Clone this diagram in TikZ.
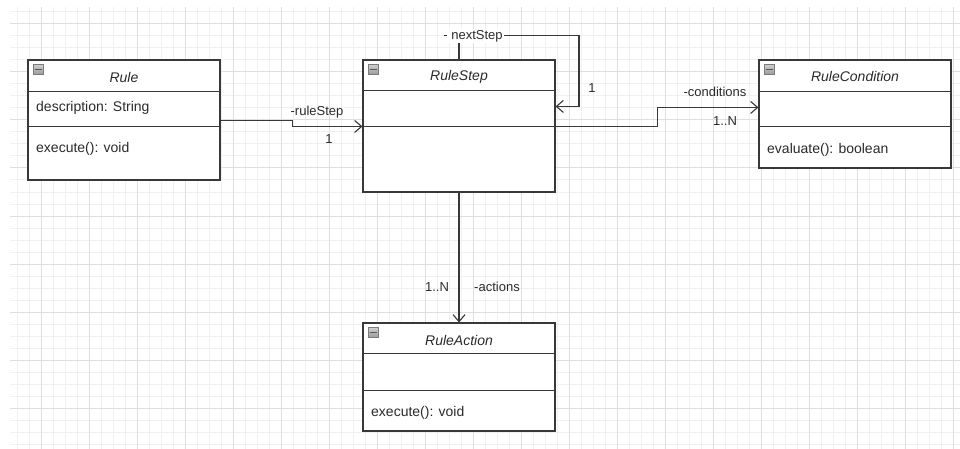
\documentclass[tikz,border=0pt]{standalone}
\usepackage{fontspec}
\setmainfont{Liberation Sans}
\usetikzlibrary{arrows.meta}
\definecolor{gridminor}{HTML}{F0F0F0}
\definecolor{gridmajor}{HTML}{DEDEDE}
\definecolor{border}{HTML}{383838}
\definecolor{ink}{HTML}{2B2B2B}
\definecolor{iconhi}{HTML}{CFCFCF}
\definecolor{iconlo}{HTML}{9A9A9A}
\tikzset{
  classbox/.style={draw=border, line width=1.1pt, fill=white, inner sep=0pt},
  classline/.style={draw=border, line width=1.1pt},
  classname/.style={font=\fontsize{14}{16}\selectfont\itshape, text=ink, inner sep=0pt},
  member/.style={font=\fontsize{14}{16}\selectfont, text=ink, anchor=west, inner sep=0pt},
  assoc/.style={draw=border, line width=1.1pt, -{Straight Barb[length=7pt,width=12pt,line width=1.1pt]}},
  rolelabel/.style={font=\fontsize{13}{15}\selectfont, text=ink, inner sep=1pt},
}
% small collapse button in the top left corner of a class header
\newcommand\collapseicon[1]{%
  \shade[top color=iconhi, bottom color=iconlo, draw=iconlo!80!black, line width=0.6pt]
    ([shift={(6,5)}]#1.north west) rectangle ++(10,10);
  \draw[line width=1.6pt, draw=border!85] ([shift={(7.5,10)}]#1.north west) -- ++(7,0);
}
\begin{document}
\begin{tikzpicture}[x=1pt, y=-1pt]
\useasboundingbox (0,0) rectangle (960,449);
\fill[white] (0,0) rectangle (960,449);

% background grid
\begin{scope}
  \clip (10,8) rectangle (960,448);
  \foreach \gx in {5,17,...,960} \draw[gridminor, line width=1pt] (\gx,0) -- (\gx,449);
  \foreach \gy in {0,12,...,449} \draw[gridminor, line width=1pt] (0,\gy) -- (960,\gy);
  \foreach \gx in {41,89,...,960} \draw[gridmajor, line width=1pt] (\gx,0) -- (\gx,449);
  \foreach \gy in {24,72,...,449} \draw[gridmajor, line width=1pt] (0,\gy) -- (960,\gy);
\end{scope}

% class Rule
\node[classbox, minimum width=192pt, minimum height=120pt] (rule) at (124,120) {};
\draw[classline] ([shift={(0,32)}]rule.north west) -- ++(192,0);
\draw[classline] ([shift={(0,67)}]rule.north west) -- ++(192,0);
\collapseicon{rule}
\node[classname] (rulename) at (124,77) {Rule};
\node[member] (ruleattr) at (36,108) {description: String};
\node[member] (ruleop) at (36,149) {execute(): void};

% class RuleStep
\node[classbox, minimum width=192pt, minimum height=132pt] (step) at (459,126) {};
\draw[classline] ([shift={(0,31)}]step.north west) -- ++(192,0);
\draw[classline] ([shift={(0,67)}]step.north west) -- ++(192,0);
\collapseicon{step}
\node[classname] (stepname) at (459,77) {RuleStep};

% class RuleCondition
\node[classbox, minimum width=192pt, minimum height=108pt] (cond) at (855,114) {};
\draw[classline] ([shift={(0,32)}]cond.north west) -- ++(192,0);
\draw[classline] ([shift={(0,67)}]cond.north west) -- ++(192,0);
\collapseicon{cond}
\node[classname] (condname) at (855,77) {RuleCondition};
\node[member] (condop) at (767,150) {evaluate(): boolean};

% class RuleAction
\node[classbox, minimum width=192pt, minimum height=108pt] (action) at (459,377) {};
\draw[classline] ([shift={(0,31)}]action.north west) -- ++(192,0);
\draw[classline] ([shift={(0,68)}]action.north west) -- ++(192,0);
\collapseicon{action}
\node[classname] (actionname) at (459,340) {RuleAction};
\node[member] (actionop) at (371,413) {execute(): void};

% associations
\draw[assoc] ([shift={(0,61)}]rule.north east) -- ++(72,0) -- ++(0,6)
  -- ([shift={(0,67)}]step.north west);
\node[rolelabel] (lblrulestep) at (317,112) {-ruleStep};
\node[rolelabel] (multrulestep) at (329,139) {1};

\draw[assoc] (step.north) -- ++(0,-24) -- ++(120,0) -- ++(0,71)
  -- ([shift={(0,47)}]step.north east);
\node[rolelabel, fill=white] (lblnext) at (473,36) {- nextStep};
\node[rolelabel] (multnext) at (592,88) {1};

\draw[assoc] ([shift={(0,67)}]step.north east) -- ++(102,0)
  |- ([shift={(0,48)}]cond.north west);
\node[rolelabel] (lblcond) at (715,92) {-conditions};
\node[rolelabel] (multcond) at (725,121) {1..N};

\draw[assoc] (step.south) -- (action.north);
\node[rolelabel] (multaction) at (437,287) {1..N};
\node[rolelabel] (lblaction) at (497,287) {-actions};
\end{tikzpicture}
\end{document}
